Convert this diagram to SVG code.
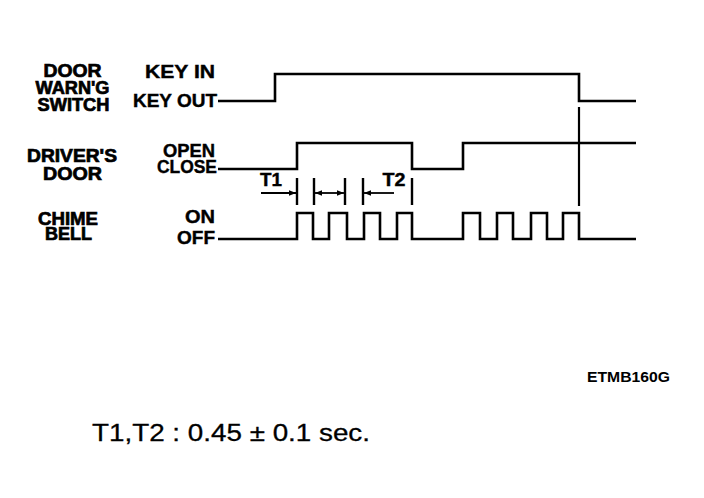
<svg xmlns="http://www.w3.org/2000/svg" width="704" height="498" viewBox="0 0 704 498">
<defs>
<style>
.lbl{font-family:"Liberation Sans",Arial,sans-serif;font-weight:bold;font-size:17.5px;fill:#000;stroke:#000;stroke-width:0.7}
.st{font-family:"Liberation Sans",Arial,sans-serif;font-weight:bold;font-size:17.5px;fill:#000;stroke:#000;stroke-width:0.4}
.wave{fill:none;stroke:#000;stroke-width:2.6;stroke-linejoin:miter}
.tick{stroke:#000;stroke-width:2.4}
.arr{stroke:#000;stroke-width:1.8;fill:none}
</style>
<marker id="ah" viewBox="0 0 10 10" refX="10" refY="5" markerWidth="9" markerHeight="7" orient="auto-start-reverse" markerUnits="userSpaceOnUse">
<path d="M0,1 L10,5 L0,9 Z" fill="#000"/>
</marker>
</defs>
<rect width="704" height="498" fill="#fff"/>

<g id="door-warning-switch">
<text class="lbl" x="72.5" y="76.5" text-anchor="middle" textLength="58" lengthAdjust="spacingAndGlyphs">DOOR</text>
<text class="lbl" x="72.5" y="93.5" text-anchor="middle" textLength="74" lengthAdjust="spacingAndGlyphs">WARN'G</text>
<text class="lbl" x="73.5" y="111" text-anchor="middle" textLength="72" lengthAdjust="spacingAndGlyphs">SWITCH</text>
<text class="st" x="215" y="78" text-anchor="end" textLength="70" lengthAdjust="spacingAndGlyphs">KEY IN</text>
<text class="st" x="217" y="107" text-anchor="end" textLength="84" lengthAdjust="spacingAndGlyphs">KEY OUT</text>
</g>

<g id="drivers-door">
<text class="lbl" x="72" y="162" text-anchor="middle" textLength="90" lengthAdjust="spacingAndGlyphs">DRIVER'S</text>
<text class="lbl" x="72.5" y="180" text-anchor="middle" textLength="59" lengthAdjust="spacingAndGlyphs">DOOR</text>
<text class="st" x="215" y="157" text-anchor="end" textLength="52" lengthAdjust="spacingAndGlyphs">OPEN</text>
<text class="st" x="217" y="173" text-anchor="end" textLength="60" lengthAdjust="spacingAndGlyphs">CLOSE</text>
</g>

<g id="chime-bell">
<text class="lbl" x="68" y="225" text-anchor="middle" textLength="60" lengthAdjust="spacingAndGlyphs">CHIME</text>
<text class="lbl" x="68.5" y="240" text-anchor="middle" textLength="47" lengthAdjust="spacingAndGlyphs">BELL</text>
<text class="st" x="215" y="223" text-anchor="end" textLength="30" lengthAdjust="spacingAndGlyphs">ON</text>
<text class="st" x="215" y="244" text-anchor="end" textLength="38" lengthAdjust="spacingAndGlyphs">OFF</text>
</g>

<g id="connectors">
<polyline class="wave" points="218,101 275,101 275,74 579,74 579,101 636,101"/>
<polyline class="wave" points="218,169 297,169 297,143 412,143 412,169 463,169 463,143 636,143"/>
<polyline class="wave" points="218,239 297,239 297,213 313,213 313,239 329,239 329,213 347,213 347,239 364,239 364,213 380,213 380,239 397,239 397,213 412,213 412,239 463,239 463,213 480,213 480,239 497,239 497,213 513,213 513,239 531,239 531,213 547,213 547,239 563,239 563,213 579,213 579,239 636,239"/>
<line x1="579" y1="107" x2="579" y2="206" stroke="#000" stroke-width="2.2"/>
</g>

<g id="timing">
<line class="tick" x1="297" y1="178" x2="297" y2="205"/>
<line class="tick" x1="314" y1="178" x2="314" y2="205"/>
<line class="tick" x1="345" y1="178" x2="345" y2="205"/>
<line class="tick" x1="363" y1="178" x2="363" y2="205"/>
<line class="tick" x1="412" y1="178" x2="412" y2="205"/>
<line class="arr" x1="261" y1="193" x2="296" y2="193" marker-end="url(#ah)"/>
<line class="arr" x1="315" y1="193" x2="344" y2="193" marker-start="url(#ah)" marker-end="url(#ah)"/>
<line class="arr" x1="394" y1="193" x2="364" y2="193" marker-end="url(#ah)"/>
<text class="st" x="271" y="186" text-anchor="middle" font-size="17" textLength="22" lengthAdjust="spacingAndGlyphs">T1</text>
<text class="st" x="394" y="186" text-anchor="middle" font-size="17" textLength="23" lengthAdjust="spacingAndGlyphs">T2</text>
</g>

<text x="587" y="382" font-family="'Liberation Sans',Arial,sans-serif" font-weight="bold" font-size="14" textLength="83" lengthAdjust="spacingAndGlyphs">ETMB160G</text>
<text x="92" y="441" font-family="'Liberation Sans',Arial,sans-serif" font-size="24" stroke="#000" stroke-width="0.3" textLength="278" lengthAdjust="spacingAndGlyphs">T1,T2 : 0.45 ± 0.1 sec.</text>
</svg>
